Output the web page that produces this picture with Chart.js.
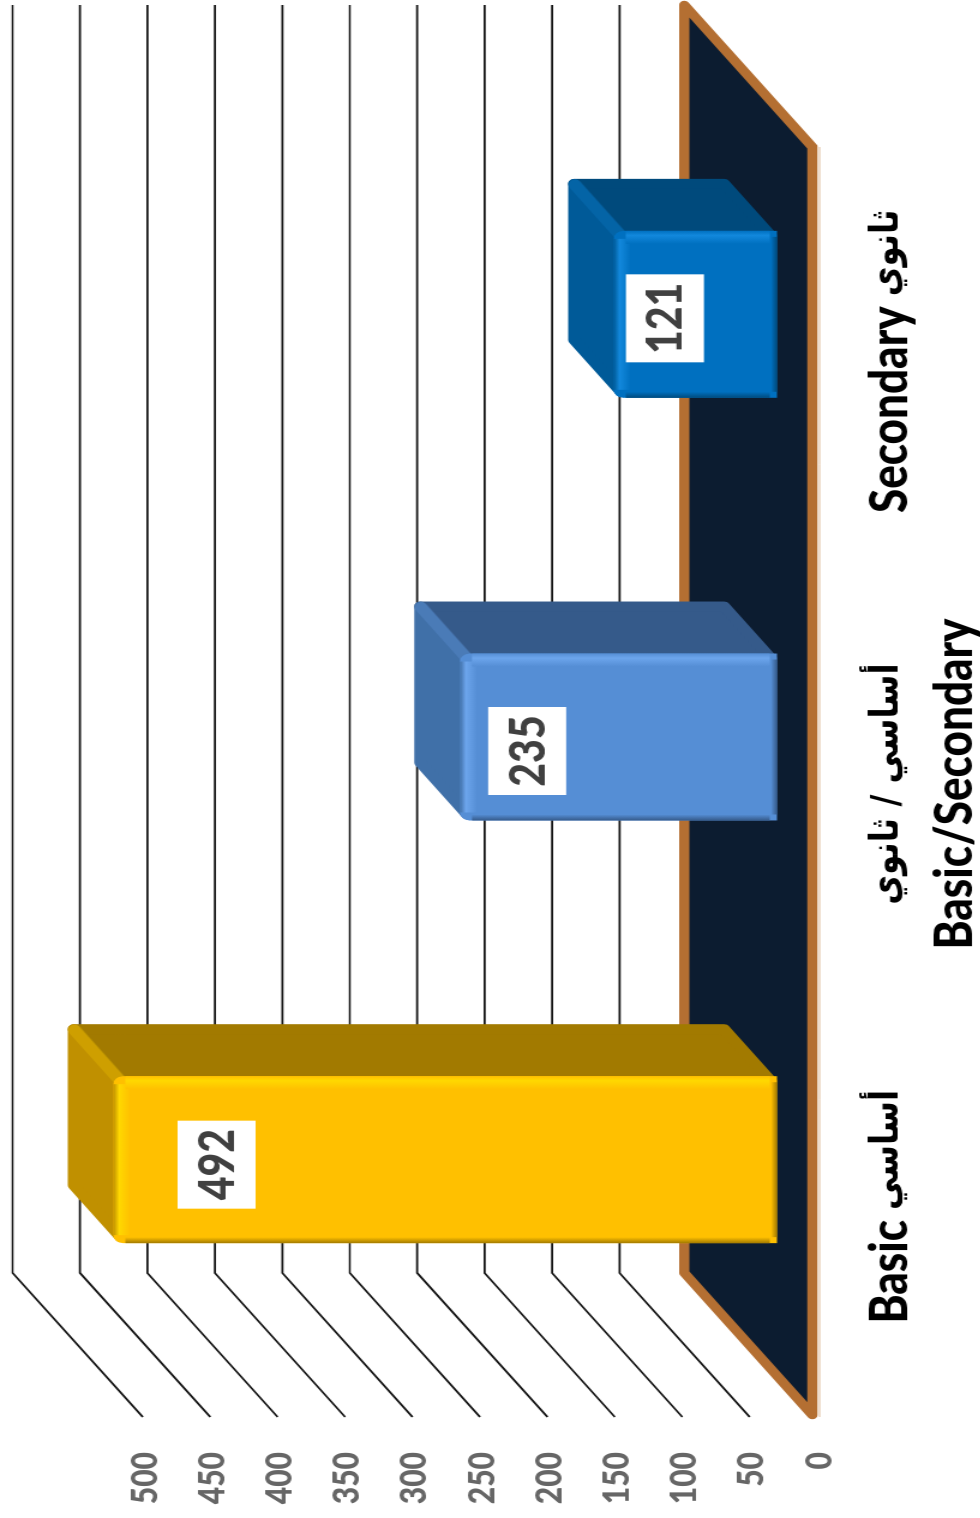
<!DOCTYPE html>
<html>
<head>
<meta charset="utf-8">
<script src="https://cdn.jsdelivr.net/npm/chart.js@4/dist/chart.umd.min.js"></script>
<style>
html, body { margin: 0; background: #fff; overflow: hidden; width: 980px; height: 1518px; }
#wrap { position: absolute; left: 0; top: 1518px; width: 1518px; height: 817px; transform-origin: 0 0; transform: rotate(-90deg) scale(1, 1.2); }
</style>
</head>
<body>
<div id="wrap"><canvas id="chart" width="1518" height="817"></canvas></div>
<script>
const categories = ['Basic', 'Basic/Secondary', 'Secondary'];
const categoriesAr = ['أساسي', 'أساسي / ثانوي', 'ثانوي'];
const values = [492, 235, 121];
const frontColors = ['#FFC000', '#558ED5', '#0070C0'];
const capColors = ['#C09000', '#4070A8', '#005A98'];
const sideColors = ['#A27A00', '#355A8A', '#004A7C'];
const lightColors = ['#FFD800', '#6CA5EC', '#1288DC'];
const axisMax = 500;
const axisStep = 50;

const wallX = 144, wallY = 108.5;     // floor/wall depth
const barX = 47, barY = 33.5;         // bars stand in the middle of the floor
const depthX = 52, depthY = 39;       // depth of the bars
const labelNudge = [5, 14, 4];
const fontEn = '900 44px Lato, sans-serif';
const fontAr = 'bold 32.5px "DejaVu Sans", sans-serif';

function poly(ctx, pts, fill, lw) {
    ctx.beginPath();
    pts.forEach((p, i) => i ? ctx.lineTo(p[0], p[1]) : ctx.moveTo(p[0], p[1]));
    ctx.closePath();
    ctx.fillStyle = fill;
    ctx.strokeStyle = fill;
    ctx.lineWidth = lw;
    ctx.lineJoin = 'round';
    ctx.fill();
    ctx.stroke();
}

const scene = {
    id: 'scene',
    beforeDatasetsDraw(chart) {
        const ctx = chart.ctx, xs = chart.scales.x, ys = chart.scales.y;
        const left = xs.left, right = xs.right, w0 = ys.getPixelForValue(0);

        // wall and side lines
        ctx.save();
        ctx.strokeStyle = '#111';
        ctx.lineWidth = 1.7;
        ys.ticks.forEach(t => {
            if (t.value === 0) return;
            const w = ys.getPixelForValue(t.value);
            ctx.beginPath();
            ctx.moveTo(left + 1, w);
            ctx.lineTo(left + wallX + 1, w - wallY);
            ctx.lineTo(1513, w - wallY);
            ctx.stroke();
        });

        // floor
        const f = [[left + 3, w0 - 4], [left + wallX + 1, w0 - 110.7], [right + wallX + 1, w0 - 110.7], [right + 3, w0 - 4]];
        ctx.beginPath();
        f.forEach((p, i) => i ? ctx.lineTo(p[0], p[1]) : ctx.moveTo(p[0], p[1]));
        ctx.closePath();
        ctx.fillStyle = '#0C1C30';
        ctx.strokeStyle = '#B46F32';
        ctx.lineWidth = 8.5;
        ctx.lineJoin = 'round';
        ctx.fill();
        ctx.stroke();
        ctx.strokeStyle = '#DDB997';
        ctx.lineWidth = 1;
        ctx.beginPath();
        ctx.moveTo(left + 1, w0 + 2);
        ctx.lineTo(right + 3, w0 + 2);
        ctx.stroke();
        ctx.restore();

        // depth faces, then the library bars in the same shifted frame
        ctx.save();
        ctx.translate(barX, -barY);
        chart.getDatasetMeta(0).data.forEach((bar, i) => {
            const l = bar.x - bar.width / 2 + 6, r = bar.x + bar.width / 2 - 5, t = bar.y + 6, b = bar.base - 5;
            poly(ctx, [[r, b], [r + depthX, b - depthY], [r + depthX, t - depthY], [r, t]], sideColors[i], 10);
            poly(ctx, [[l, t], [r, t], [r + depthX, t - depthY], [l + depthX, t - depthY]], capColors[i], 10);
            ctx.strokeStyle = lightColors[i];
            ctx.globalAlpha = 0.22;
            ctx.lineWidth = 11;
            ctx.lineCap = 'round';
            ctx.beginPath();
            ctx.moveTo(r - 1, t + 1);
            ctx.lineTo(r + depthX - 1, t - depthY + 1);
            ctx.stroke();
            ctx.globalAlpha = 1;
        });
    },
    afterDatasetsDraw(chart) {
        const ctx = chart.ctx, ys = chart.scales.y;
        const bars = chart.getDatasetMeta(0).data;

        // bevel on the front faces
        bars.forEach((bar, i) => {
            const l = bar.x - bar.width / 2, r = bar.x + bar.width / 2, t = bar.y, b = bar.base;
            let g = ctx.createLinearGradient(0, t, 0, t + 14);
            g.addColorStop(0, capColors[i]);
            g.addColorStop(0.35, lightColors[i]);
            g.addColorStop(1, frontColors[i]);
            ctx.fillStyle = g;
            ctx.fillRect(l + 8, t, bar.width - 16, 14);
            g = ctx.createLinearGradient(r - 13, 0, r, 0);
            g.addColorStop(0, frontColors[i]);
            g.addColorStop(0.65, lightColors[i]);
            g.addColorStop(1, frontColors[i]);
            ctx.fillStyle = g;
            ctx.fillRect(r - 13, t + 10, 13, b - t - 16);
            g = ctx.createLinearGradient(l, 0, l + 6, 0);
            g.addColorStop(0, sideColors[i]);
            g.addColorStop(1, frontColors[i]);
            ctx.fillStyle = g;
            ctx.fillRect(l, t + 10, 6, b - t - 16);
            g = ctx.createLinearGradient(0, b - 5, 0, b);
            g.addColorStop(0, frontColors[i]);
            g.addColorStop(1, sideColors[i]);
            ctx.fillStyle = g;
            ctx.fillRect(l + 6, b - 5, bar.width - 12, 5);
        });
        ctx.restore();

        // value boxes
        ctx.save();
        ctx.textAlign = 'center';
        ctx.textBaseline = 'middle';
        ctx.font = '900 41px Lato, sans-serif';
        bars.forEach((bar, i) => {
            const u = bar.x + barX - labelNudge[i];
            const w = ys.getPixelForValue(values[i] * 0.896) - 5;
            ctx.fillStyle = '#fff';
            ctx.fillRect(u - 44, w - 32.5, 88, 65);
            ctx.fillStyle = '#404040';
            ctx.fillText(values[i], u, w + 1);
        });
        ctx.restore();
    },
    afterDraw(chart) {
        // category labels: English and Arabic need different fonts
        const ctx = chart.ctx, xs = chart.scales.x;
        ctx.save();
        ctx.textBaseline = 'alphabetic';
        ctx.fillStyle = '#000';
        categories.forEach((name, i) => {
            const c = xs.getPixelForTick(i);
            ctx.font = fontEn;
            const enW = ctx.measureText(name).width;
            ctx.font = fontAr;
            const arW = ctx.measureText(categoriesAr[i]).width;
            if (i === 1) {
                ctx.textAlign = 'center';
                ctx.font = fontAr;
                ctx.fillText(categoriesAr[i], c, 748);
                ctx.font = fontEn;
                ctx.fillText(name, c, 810);
            } else {
                const gap = 10, start = c - (enW + gap + arW) / 2;
                ctx.textAlign = 'left';
                ctx.font = fontEn;
                ctx.fillText(name, start, 756);
                ctx.font = fontAr;
                ctx.fillText(categoriesAr[i], start + enW + gap, 748);
            }
        });
        ctx.restore();
    }
};

new Chart(document.getElementById('chart'), {
    type: 'bar',
    data: {
        labels: categories,
        datasets: [{
            data: values,
            backgroundColor: frontColors,
            barPercentage: 0.395,
            categoryPercentage: 1,
            borderRadius: 8,
            clip: false
        }]
    },
    plugins: [scene],
    options: {
        responsive: false,
        animation: false,
        layout: { padding: { top: 119, right: 150, left: 0, bottom: 0 } },
        plugins: { legend: { display: false }, tooltip: { enabled: false } },
        scales: {
            x: {
                grid: { display: false },
                border: { display: false },
                afterFit: s => { s.height = 136; },
                ticks: { display: false, autoSkip: false, maxRotation: 0, minRotation: 0 }
            },
            y: {
                min: 0,
                max: axisMax,
                grid: { display: false, drawTicks: false },
                border: { display: false },
                afterFit: s => { s.width = 100; },
                ticks: {
                    stepSize: axisStep, padding: 34, color: '#666', labelOffset: 2,
                    font: { family: 'Lato, sans-serif', weight: '900', size: 30 }
                }
            }
        }
    }
});
</script>
</body>
</html>
